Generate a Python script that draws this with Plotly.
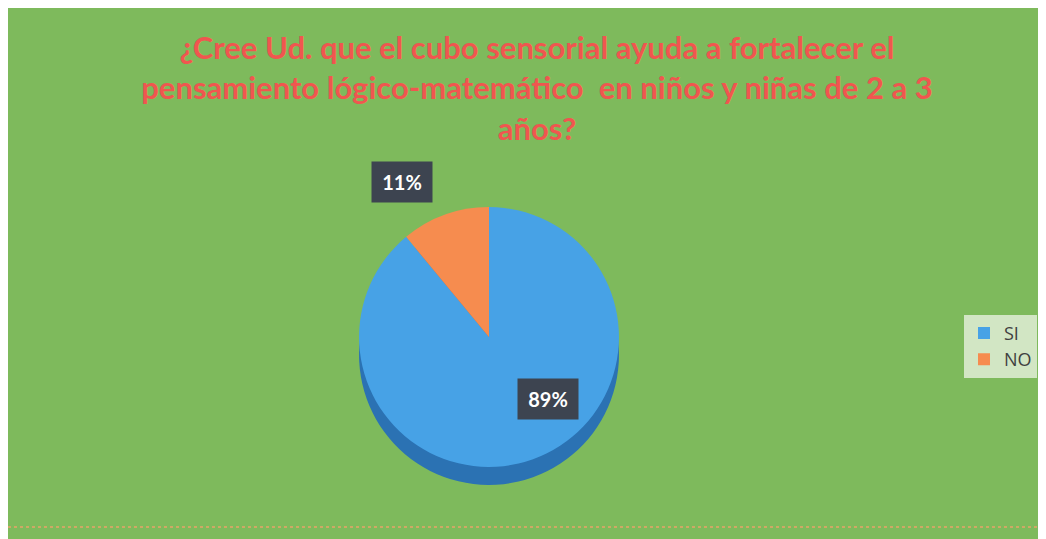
import plotly.graph_objects as go

# ---- data ----
categories = ["SI", "NO"]
values = [89, 11]
slice_colors = ["#47a2e6", "#f68c4f"]
side_colors = ["#2b72b3", "#c96a36"]
title_text = ("¿Cree Ud. que el cubo sensorial ayuda a fortalecer el<br>"
              "pensamiento lógico-matemático  en niños y niñas de 2 a 3<br>"
              "años?")

total = sum(values)
pct_labels = [f"{round(v / total * 100)}%" for v in values]

fig = go.Figure()

# darker "side" of the pie (3-D look)
fig.add_trace(go.Pie(
    labels=categories, values=values, sort=False, direction="clockwise",
    rotation=0, marker=dict(colors=side_colors), textinfo="none",
    hoverinfo="skip", showlegend=False,
    domain=dict(x=[0.3382, 0.5886], y=[0.1017, 0.5913]),
))
# top face of the pie
fig.add_trace(go.Pie(
    labels=categories, values=values, sort=False, direction="clockwise",
    rotation=0, marker=dict(colors=slice_colors), textinfo="none",
    domain=dict(x=[0.3382, 0.5886], y=[0.1356, 0.6252]),
))

label_pos = [(0.5202, 0.2637), (0.3796, 0.6723)]
annotations = []
for (ax, ay), txt in zip(label_pos, pct_labels):
    annotations.append(dict(
        x=ax, y=ay, xref="paper", yref="paper", text=f"<b>{txt}</b>",
        xanchor="center", yanchor="middle",
        showarrow=False, font=dict(family="Lato", size=20, color="white"),
        bgcolor="#3d4450", borderpad=8, width=44,
    ))

fig.update_layout(
    width=1038, height=531,
    margin=dict(l=0, r=0, t=0, b=0),
    paper_bgcolor="#7eba5c",
    plot_bgcolor="#7eba5c",
    title=dict(
        text=f"<b>{title_text}</b>", x=0.5096, xanchor="center",
        y=0.904, yanchor="middle", yref="container",
        font=dict(family="Lato", size=31, color="#f0564f"),
    ),
    shapes=[
        dict(type="line", xref="paper", yref="paper", x0=0, x1=1,
             y0=0.0226, y1=0.0226,
             line=dict(color="#e8a468", width=1.5, dash="dot"), layer="below"),
    ],
    legend=dict(
        x=0.921, y=0.363, xanchor="left", yanchor="middle",
        bgcolor="#d2e6c4", font=dict(family="Open Sans", size=18, color="#404040"),
        itemwidth=30,
    ),
    annotations=annotations,
)

fig.write_html("out.html")
